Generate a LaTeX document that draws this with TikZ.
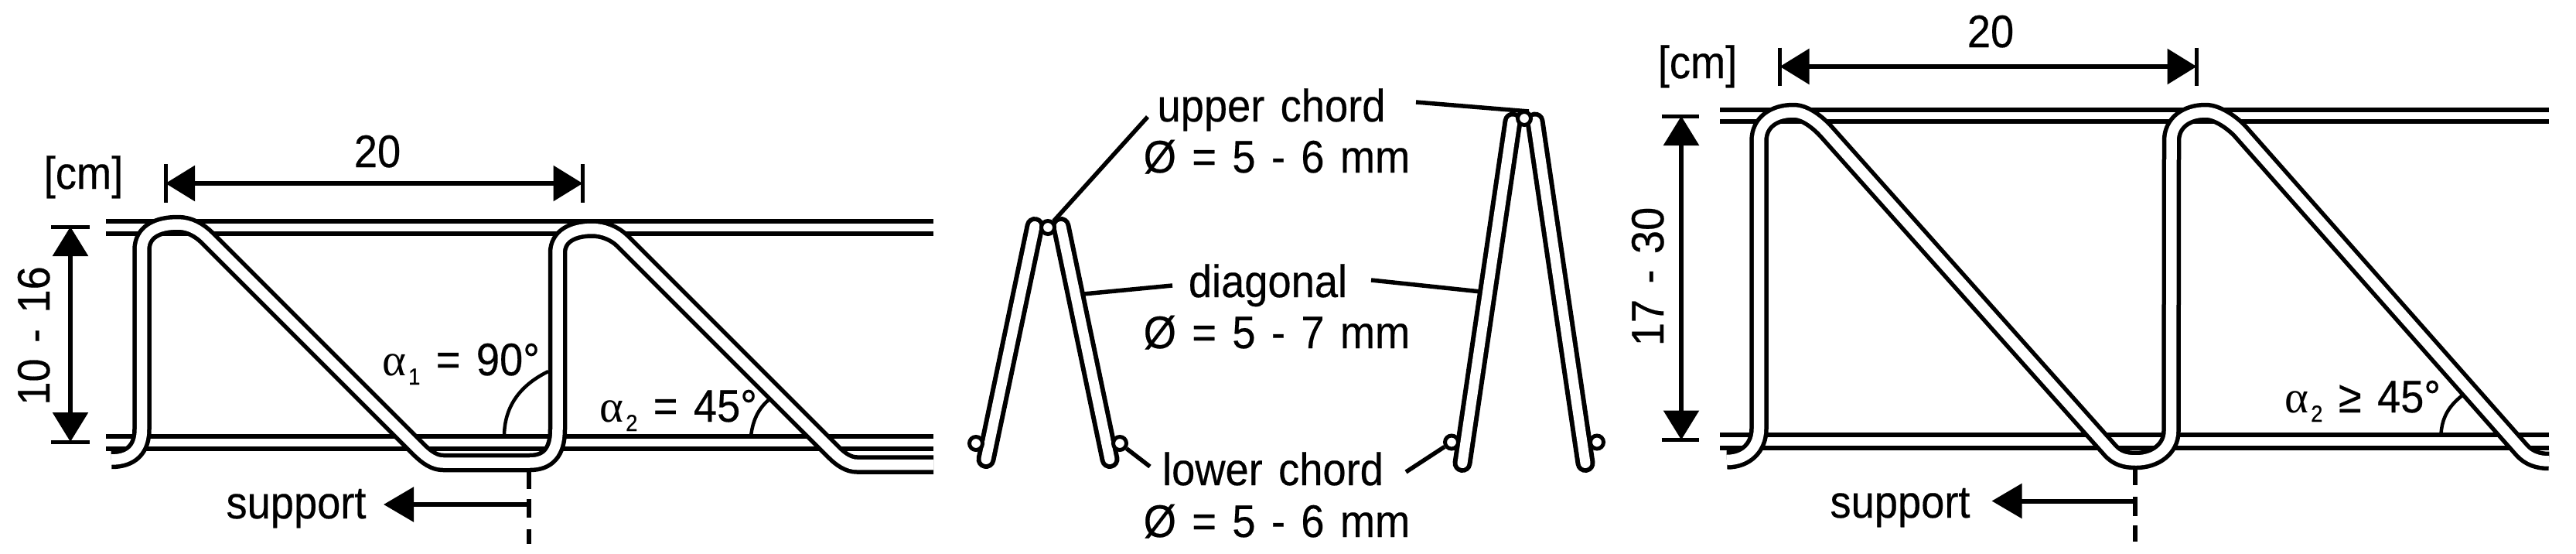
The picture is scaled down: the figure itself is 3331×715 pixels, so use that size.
\documentclass[tikz,border=0pt]{standalone}
\usepackage{fontspec}
\usetikzlibrary{arrows.meta}
\setmainfont[FakeStretch=0.92,FakeBold=0.35,WordSpace=1.35]{Liberation Sans}
\newfontfamily\greekfont{Liberation Serif}
\newcommand{\aSym}[1]{{\greekfont α}\hspace{3pt}\raisebox{-12pt}{\fontsize{30}{30}\selectfont #1}}
\tikzset{
  chord/.style={line width=5.5pt},
  wire/.style={double=white,double distance=13.5pt,line width=5.5pt,line join=round},
  leg/.style={double=white,double distance=13pt,line width=6pt,line cap=round},
  tick/.style={line width=5pt},
  dim/.style={line width=6pt,{Triangle[length=38pt,width=45pt]}-{Triangle[length=38pt,width=45pt]}},
  suparrow/.style={line width=6pt,-{Triangle[length=39pt,width=44pt]}},
  leader/.style={line width=5.5pt},
  anglearc/.style={line width=4.5pt},
  txt/.style={inner sep=0pt,anchor=base,font=\fontsize{59}{66}\selectfont},
  bar/.style={circle,draw,fill=white,line width=5pt,minimum size=17pt,inner sep=0pt},
}
\begin{document}
\begin{tikzpicture}[x=1pt,y=-1pt]
\useasboundingbox (0,0) rectangle (3331,715);
\fill[white] (0,0) rectangle (3331,715);

% ---------- left truss ----------
\draw[chord] (137,286) -- (1207,286);
\draw[chord] (137,302) -- (1207,302);
\draw[chord] (137,564) -- (1207,564);
\draw[chord] (137,580) -- (1207,580);
\draw[wire] (144,594) .. controls (170,594) and (183.5,580) .. (183.5,555) -- (183.5,323)
  .. controls (183.5,300) and (203,290) .. (230,290)
  .. controls (245,290) and (258,297.5) .. (268,307.5) -- (541,580.5)
  .. controls (552,591.5) and (562,598) .. (573,598) -- (685,598)
  .. controls (708,598) and (721,585) .. (721,555) -- (721,327)
  .. controls (721,305) and (741,295.5) .. (765.5,295.5)
  .. controls (780,295.5) and (795,301.5) .. (805,311.5) -- (1078,584.5)
  .. controls (1087,593.5) and (1097,600.5) .. (1108,600.5) -- (1207,600.5);
\coordinate (LhA) at (214,237);
\coordinate (LhB) at (753.5,237);
\draw[tick] (214,212) -- (214,262);
\draw[tick] (753.5,212) -- (753.5,262);
\draw[dim] (LhA) -- (LhB);
\coordinate (LvA) at (91,293);
\coordinate (LvB) at (91,571);
\draw[tick] (66,293) -- (116,293);
\draw[tick] (66,571) -- (116,571);
\draw[dim] (LvA) -- (LvB);
\node[txt] (Lcm) at (108,244) {[cm]};
\node[txt] (L20) at (488,216) {20};
\node[txt,rotate=90] (Lh) at (64,434) {10 - 16};
\draw[anglearc] (652,564) .. controls (652,530) and (668,500) .. (709,480);
\draw[anglearc] (971,564) .. controls (973,545) and (980,528) .. (995,516);
\node[txt,anchor=base west] (La1) at (494,485) {\aSym{1} = 90°};
\node[txt,anchor=base west] (La2) at (775,545) {\aSym{2} = 45°};
\coordinate (LdA) at (684,608);
\coordinate (LdB) at (684,703);
\draw[line width=6pt,dash pattern=on 24pt off 13pt on 24pt off 15pt on 20pt] (LdA) -- (LdB);
\coordinate (LsA) at (684,652);
\coordinate (LsB) at (496,652);
\draw[suparrow] (LsA) -- (LsB);
\node[txt] (Ls) at (383,670) {support};

% ---------- middle cross sections ----------
\draw[leg] (1338,292.5) -- (1275,593.5);
\draw[leg] (1372,292.5) -- (1435,593.5);
\draw[leg] (1956,157) -- (1891,598.5);
\draw[leg] (1985,157) -- (2050,598.5);
\node[bar] (cTL) at (1355,294) {};
\node[bar] (cBL1) at (1262,573) {};
\node[bar] (cBL2) at (1448,573) {};
\node[bar] (cTR) at (1971,153) {};
\node[bar] (cBR1) at (1877,571.5) {};
\node[bar] (cBR2) at (2065,571.5) {};
\node[txt] (tU) at (1644,157) {upper chord};
\node[txt] (tUd) at (1651,223) {Ø = 5 - 6 mm};
\node[txt] (tD) at (1639.5,384) {diagonal};
\node[txt] (tDd) at (1651,450) {Ø = 5 - 7 mm};
\node[txt] (tL) at (1646,627) {lower chord};
\node[txt] (tLd) at (1651,694) {Ø = 5 - 6 mm};
\coordinate (uL) at (1484,151);
\coordinate (uR) at (1831,132);
\coordinate (uRe) at (1977,144);
\coordinate (dL) at (1516,369);
\coordinate (dLe) at (1401,380);
\coordinate (dR) at (1773,362);
\coordinate (dRe) at (1915,377);
\coordinate (lL) at (1487,603);
\coordinate (lR) at (1818,610);
\draw[leader] (uL) -- (cTL);
\draw[leader] (uR) -- (uRe);
\draw[leader] (dL) -- (dLe);
\draw[leader] (dR) -- (dRe);
\draw[leader] (lL) -- (cBL2);
\draw[leader] (lR) -- (cBR1);

% ---------- right truss ----------
\draw[chord] (2224,142) -- (3296,142);
\draw[chord] (2224,157) -- (3296,157);
\draw[chord] (2224,562) -- (3296,562);
\draw[chord] (2224,579) -- (3296,579);
\draw[wire] (2233,594.5) .. controls (2258,594.5) and (2274.5,578) .. (2274.5,554) -- (2274.5,182)
  .. controls (2274.5,158) and (2294,145) .. (2319,145)
  .. controls (2335,145) and (2352,159.5) .. (2362,170.7) -- (2728.5,582)
  .. controls (2737.5,592) and (2748,595) .. (2762,595)
  .. controls (2787,595) and (2807.5,580) .. (2807.5,557) -- (2808,182)
  .. controls (2808,158) and (2828,145) .. (2852,145)
  .. controls (2868,145) and (2888,160) .. (2897,170) -- (3261,582)
  .. controls (3270,592) and (3282,596) .. (3296,596);
\coordinate (RhA) at (2301.5,86);
\coordinate (RhB) at (2840.5,86);
\draw[tick] (2301.5,61.5) -- (2301.5,111);
\draw[tick] (2840.5,61.5) -- (2840.5,111);
\draw[dim] (RhA) -- (RhB);
\coordinate (RvA) at (2174,150);
\coordinate (RvB) at (2174,568.5);
\draw[tick] (2148.5,150) -- (2197,150);
\draw[tick] (2148.5,568.5) -- (2197,568.5);
\draw[dim] (RvA) -- (RvB);
\node[txt] (Rcm) at (2195,101) {[cm]};
\node[txt] (R20) at (2574,61) {20};
\node[txt,rotate=90] (Rh) at (2151,357.5) {17 - 30};
\draw[anglearc] (3156.5,560) .. controls (3158,540) and (3166,525) .. (3184,511);
\node[txt,anchor=base west] (Ra2) at (2954,533) {\aSym{2} ≥ 45°};
\coordinate (RdA) at (2761,604);
\coordinate (RdB) at (2761,700);
\draw[line width=6pt,dash pattern=on 23pt off 15pt on 25pt off 12pt on 21pt] (RdA) -- (RdB);
\coordinate (RsA) at (2761,647.5);
\coordinate (RsB) at (2575.5,647.5);
\draw[suparrow] (RsA) -- (RsB);
\node[txt] (Rs) at (2457,669) {support};
\end{tikzpicture}
\end{document}
